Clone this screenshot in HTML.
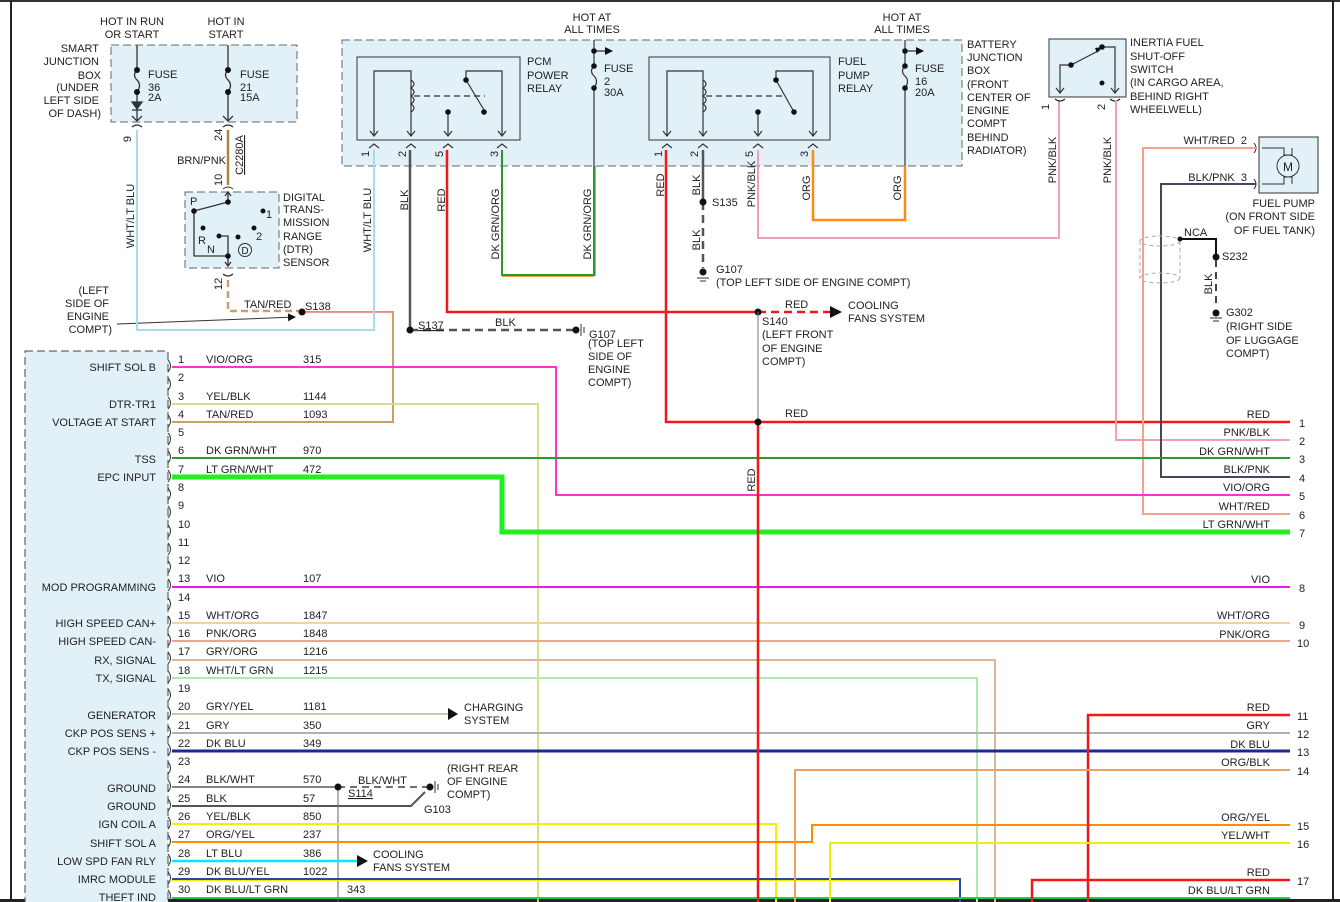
<!DOCTYPE html>
<html><head><meta charset="utf-8"><style>
html,body{margin:0;padding:0;background:#fff;width:1340px;height:902px;overflow:hidden}
svg{display:block}
text{font-family:"Liberation Sans",sans-serif;font-size:11px;fill:#222}
.r{text-anchor:end}
.m{text-anchor:middle}
</style></head><body>
<svg width="1340" height="902" viewBox="0 0 1340 902" xmlns="http://www.w3.org/2000/svg">
<defs>
<marker id="ah" markerWidth="8" markerHeight="8" refX="7" refY="4" orient="auto" markerUnits="userSpaceOnUse"><path d="M0,0 L8,4 L0,8 Z" fill="#111"/></marker>
</defs>
<!-- frame -->
<line x1="0" y1="1" x2="1340" y2="1" stroke="#333" stroke-width="2"/>
<line x1="11" y1="0" x2="11" y2="902" stroke="#222" stroke-width="2"/>
<line x1="1333" y1="0" x2="1333" y2="902" stroke="#222" stroke-width="2"/>
<rect x="0" y="899" width="1340" height="3" fill="#222"/>

<!-- boxes -->
<rect x="111" y="45" width="186" height="77" fill="#e2f0f8" stroke="#666" stroke-dasharray="8,4"/>
<rect x="342" y="40" width="620" height="126" fill="#e2f0f8" stroke="#666" stroke-dasharray="8,4"/>
<rect x="357" y="57" width="163" height="83" fill="none" stroke="#333"/>
<rect x="649" y="57" width="181" height="83" fill="none" stroke="#333"/>
<rect x="185" y="192" width="94" height="76" fill="#e2f0f8" stroke="#666" stroke-dasharray="8,4"/>
<rect x="1049" y="39" width="77" height="58" fill="#e2f0f8" stroke="#333"/>
<rect x="1259" y="137" width="59" height="56" fill="#e2f0f8" stroke="#333"/>
<rect x="25" y="351" width="143" height="560" fill="#e2f0f8" stroke="#444" stroke-dasharray="8,4"/>

<!-- top labels -->
<text x="132" y="25" class="m">HOT IN RUN</text><text x="132" y="38" class="m">OR START</text>
<text x="226" y="25" class="m">HOT IN</text><text x="226" y="38" class="m">START</text>
<text x="99" y="52" class="r">SMART</text><text x="99" y="65" class="r">JUNCTION</text><text x="101" y="79" class="r">BOX</text>
<text x="99" y="91" class="r">(UNDER</text><text x="99" y="104" class="r">LEFT SIDE</text><text x="101" y="117" class="r">OF DASH)</text>
<text x="592" y="21" class="m">HOT AT</text><text x="592" y="33" class="m">ALL TIMES</text>
<text x="902" y="21" class="m">HOT AT</text><text x="902" y="33" class="m">ALL TIMES</text>
<text x="967" y="48">BATTERY</text><text x="967" y="61">JUNCTION</text><text x="967" y="74">BOX</text><text x="967" y="88">(FRONT</text><text x="967" y="101">CENTER OF</text><text x="967" y="114">ENGINE</text><text x="967" y="127">COMPT</text><text x="967" y="141">BEHIND</text><text x="967" y="154">RADIATOR)</text>
<text x="527" y="65">PCM</text><text x="527" y="79">POWER</text><text x="527" y="92">RELAY</text>
<text x="838" y="65">FUEL</text><text x="838" y="79">PUMP</text><text x="838" y="92">RELAY</text>
<text x="1130" y="46">INERTIA FUEL</text><text x="1130" y="60">SHUT-OFF</text><text x="1130" y="73">SWITCH</text><text x="1130" y="86">(IN CARGO AREA,</text><text x="1130" y="100">BEHIND RIGHT</text><text x="1130" y="113">WHEELWELL)</text>
<text x="1315" y="207" class="r">FUEL PUMP</text><text x="1315" y="220" class="r">(ON FRONT SIDE</text><text x="1315" y="234" class="r">OF FUEL TANK)</text>

<!-- smart JB fuses -->
<g stroke="#333" fill="none" stroke-width="1.3">
<line x1="137" y1="45" x2="137" y2="68"/><path d="M137,70 q-5,5 0,10 q5,5 0,12"/><line x1="137" y1="92" x2="137" y2="120"/>
<path d="M132,102 L142,102 L137,109 Z" fill="#333"/><line x1="132" y1="110" x2="142" y2="110"/>
<path d="M132,116 L137,121 L142,116"/>
<line x1="228" y1="45" x2="228" y2="68"/><path d="M228,70 q-5,5 0,10 q5,5 0,12"/><line x1="228" y1="92" x2="228" y2="120"/>
<path d="M223,116 L228,121 L233,116"/>
<path d="M132,127 q5,-4 10,0"/><path d="M223,127 q5,-4 10,0"/>
</g>
<circle cx="137" cy="70" r="3" fill="#111"/><circle cx="137" cy="92" r="3" fill="#111"/>
<circle cx="228" cy="70" r="3" fill="#111"/><circle cx="228" cy="92" r="3" fill="#111"/>
<text x="148" y="78">FUSE</text><text x="148" y="91">36</text><text x="148" y="101">2A</text>
<text x="240" y="78">FUSE</text><text x="240" y="91">21</text><text x="240" y="101">15A</text>
<text transform="translate(131,136) rotate(-90)" class="r">9</text>
<text transform="translate(222,141) rotate(-90)">24</text>
<text transform="translate(134,216) rotate(-90)" class="m">WHT/LT BLU</text>
<text x="226" y="164" class="r">BRN/PNK</text>
<text transform="translate(243,155) rotate(-90)" class="m" style="text-decoration:underline">C2280A</text>
<line x1="228" y1="130" x2="228" y2="185" stroke="#b08040" stroke-width="2.5"/>
<text transform="translate(222,186) rotate(-90)">10</text>
<path d="M223,189 q5,-4 10,0" stroke="#333" fill="none"/>
<!-- DTR internals -->
<g stroke="#333" fill="none" stroke-width="1.3">
<line x1="228" y1="192" x2="228" y2="202"/><path d="M225,196 L228,192 L231,196"/>
<line x1="228" y1="202" x2="194" y2="211"/>
<path d="M194,211 L194,256 L228,256 L228,236 L219,236"/>
<line x1="228" y1="256" x2="228" y2="266"/><path d="M225,262 L228,266 L231,262"/>
<path d="M223,274 q5,4 10,0"/>
</g>
<circle cx="228" cy="202" r="2.8" fill="#111"/><circle cx="194" cy="211" r="2.8" fill="#111"/><circle cx="263" cy="211" r="2.5" fill="#111"/>
<circle cx="203" cy="228" r="2.5" fill="#111"/><circle cx="254" cy="228" r="2.5" fill="#111"/><circle cx="219" cy="236" r="2.5" fill="#111"/><circle cx="238" cy="237" r="2.5" fill="#111"/><circle cx="228" cy="256" r="2.8" fill="#111"/>
<circle cx="245" cy="250" r="6.5" fill="none" stroke="#333"/><text x="245" y="254" class="m" style="font-size:10px">D</text>
<text x="190" y="205">P</text><text x="266" y="218">1</text><text x="256" y="240">2</text><text x="198" y="244">R</text><text x="207" y="253">N</text>
<text x="283" y="201">DIGITAL</text><text x="283" y="213">TRANS-</text><text x="283" y="226">MISSION</text><text x="283" y="240">RANGE</text><text x="283" y="253">(DTR)</text><text x="283" y="266">SENSOR</text>
<text transform="translate(222,290) rotate(-90)">12</text>
<path d="M228,280 L228,311 L300,311" stroke="#c8a070" stroke-width="2.5" fill="none" stroke-dasharray="7,4"/>
<text x="244" y="308">TAN/RED</text>
<path d="M302,312 L393,312 L393,422 L172,422" stroke="#c8a070" stroke-width="2" fill="none"/>
<line x1="302" y1="312.6" x2="393" y2="312.6" stroke="#f0a090" stroke-width="1"/>
<circle cx="302" cy="312" r="3.5" fill="#111"/><text x="305" y="310">S138</text>
<line x1="117" y1="324" x2="295" y2="317" stroke="#333" marker-end="url(#ah)"/>
<text x="109" y="294" class="r">(LEFT</text><text x="109" y="307" class="r">SIDE OF</text><text x="109" y="320" class="r">ENGINE</text><text x="112" y="333" class="r">COMPT)</text>
<!-- WHT/LT BLU -->
<path d="M137,130 L137,330 L374,330 L374,150" stroke="#a8dce8" stroke-width="2" fill="none"/>

<!-- PCM relay internals -->
<g stroke="#333" fill="none" stroke-width="1.2">
<path d="M374,135 L374,71 L411,71 L411,135"/>
<path d="M411,80 q6,4 0,8 q6,4 0,8 q6,4 0,8 q6,4 0,8"/>
<line x1="414" y1="96" x2="485" y2="96" stroke-dasharray="6,4"/>
<path d="M466,80 L466,71 L502,71 L502,135"/><line x1="466" y1="80" x2="484" y2="110"/>
<line x1="448" y1="112" x2="448" y2="135"/>
<path d="M370,131 L374,136 L378,131 M407,131 L411,136 L415,131 M444,131 L448,136 L452,131 M498,131 L502,136 L506,131"/>
<path d="M369,148 L374,144 L379,148 M406,148 L411,144 L416,148 M443,148 L448,144 L453,148 M497,148 L502,144 L507,148"/>
<line x1="594" y1="40" x2="594" y2="65"/><path d="M594,66 q-5,5 0,10 q5,5 0,12"/><line x1="594" y1="88" x2="594" y2="166"/>
<line x1="594" y1="51" x2="612" y2="51" marker-end="url(#ah)"/>
<!-- fuel pump relay -->
<path d="M667,135 L667,71 L703,71 L703,135"/>
<path d="M703,80 q6,4 0,8 q6,4 0,8 q6,4 0,8 q6,4 0,8"/>
<line x1="706" y1="96" x2="785" y2="96" stroke-dasharray="6,4"/>
<path d="M776,80 L776,71 L813,71 L813,135"/><line x1="776" y1="80" x2="794" y2="112"/>
<line x1="758" y1="112" x2="758" y2="135"/>
<path d="M663,131 L667,136 L671,131 M699,131 L703,136 L707,131 M754,131 L758,136 L762,131 M809,131 L813,136 L817,131"/>
<path d="M662,148 L667,144 L672,148 M698,148 L703,144 L708,148 M753,148 L758,144 L763,148 M808,148 L813,144 L818,148"/>
<line x1="905" y1="40" x2="905" y2="65"/><path d="M905,66 q-5,5 0,10 q5,5 0,12"/><line x1="905" y1="88" x2="905" y2="166"/>
<line x1="905" y1="51" x2="923" y2="51" marker-end="url(#ah)"/>
</g>
<g fill="#111"><circle cx="466" cy="80" r="2.8"/><circle cx="484" cy="112" r="2.8"/><circle cx="448" cy="112" r="2.8"/><circle cx="594" cy="51" r="2.8"/><circle cx="594" cy="66" r="2.8"/><circle cx="594" cy="88" r="2.8"/>
<circle cx="776" cy="80" r="2.8"/><circle cx="794" cy="112" r="2.8"/><circle cx="758" cy="112" r="2.8"/><circle cx="905" cy="51" r="2.8"/><circle cx="905" cy="66" r="2.8"/><circle cx="905" cy="88" r="2.8"/></g>
<text x="604" y="72">FUSE</text><text x="604" y="85">2</text><text x="604" y="96">30A</text>
<text x="915" y="72">FUSE</text><text x="915" y="85">16</text><text x="915" y="96">20A</text>
<g style="font-size:10px">
<text transform="translate(369,157) rotate(-90)">1</text><text transform="translate(406,157) rotate(-90)">2</text><text transform="translate(443,157) rotate(-90)">5</text><text transform="translate(498,157) rotate(-90)">3</text>
<text transform="translate(662,157) rotate(-90)">1</text><text transform="translate(698,157) rotate(-90)">2</text><text transform="translate(753,157) rotate(-90)">5</text><text transform="translate(808,157) rotate(-90)">3</text>
<text transform="translate(1049,110) rotate(-90)">1</text><text transform="translate(1105,110) rotate(-90)">2</text>
</g>
<!-- relay wires -->
<path d="M410,150 L410,330" stroke="#555" stroke-width="2.5" fill="none"/>
<path d="M410,330 L574,330" stroke="#555" stroke-width="2.5" stroke-dasharray="8,5" fill="none"/>
<circle cx="410" cy="330" r="3.5" fill="#111"/><text x="418" y="329" style="text-decoration:underline">S137</text>
<text x="495" y="326">BLK</text>
<circle cx="576" cy="330" r="3.5" fill="#111"/><line x1="581" y1="324" x2="581" y2="336" stroke="#333"/><line x1="584" y1="327" x2="584" y2="333" stroke="#333"/>
<text x="589" y="338">G107</text><text x="588" y="347">(TOP LEFT</text><text x="588" y="360">SIDE OF</text><text x="588" y="373">ENGINE</text><text x="588" y="386">COMPT)</text>
<path d="M447,150 L447,312 L758,312" stroke="#f01818" stroke-width="2.5" fill="none"/>
<path d="M758,312 L830,312" stroke="#f01818" stroke-width="2.5" fill="none" stroke-dasharray="8,5"/>
<path d="M830,306 L842,312 L830,318 Z" fill="#111"/>
<circle cx="758" cy="312" r="3.5" fill="#111"/>
<text x="785" y="308">RED</text><text x="848" y="309">COOLING</text><text x="848" y="322">FANS SYSTEM</text>
<text x="762" y="325">S140</text><text x="762" y="338">(LEFT FRONT</text><text x="762" y="352">OF ENGINE</text><text x="762" y="365">COMPT)</text>
<line x1="758" y1="312" x2="758" y2="422" stroke="#777" stroke-width="1"/>
<path d="M502,150 L502,275 L594,275 L594,166" stroke="#2a9a2a" stroke-width="2" fill="none"/>
<path d="M502,276.5 L594,276.5 M595.5,276 L595.5,166" stroke="#f0a040" stroke-width="1" fill="none"/>
<path d="M666,150 L666,422 L1290,422" stroke="#f01818" stroke-width="2.5" fill="none"/>
<path d="M703,150 L703,202" stroke="#555" stroke-width="2.5" fill="none"/>
<path d="M703,202 L703,268" stroke="#555" stroke-width="2.5" stroke-dasharray="8,5" fill="none"/>
<circle cx="703" cy="202" r="3.5" fill="#111"/><text x="712" y="206">S135</text>
<circle cx="703" cy="272" r="3.5" fill="#111"/><line x1="697" y1="278" x2="709" y2="278" stroke="#333"/><line x1="700" y1="281" x2="706" y2="281" stroke="#333"/>
<text x="716" y="273">G107</text><text x="716" y="286">(TOP LEFT SIDE OF ENGINE COMPT)</text>
<path d="M758,150 L758,238 L1059,238 L1059,100" stroke="#f0a0b0" stroke-width="2" fill="none"/>
<path d="M813,150 L813,220 L905,220 L905,166" stroke="#ff8c10" stroke-width="2.5" fill="none"/>
<!-- relay wire labels -->
<text transform="translate(371,220) rotate(-90)" class="m">WHT/LT BLU</text>
<text transform="translate(408,200) rotate(-90)" class="m">BLK</text>
<text transform="translate(445,200) rotate(-90)" class="m">RED</text>
<text transform="translate(499,224) rotate(-90)" class="m">DK GRN/ORG</text>
<text transform="translate(591,224) rotate(-90)" class="m">DK GRN/ORG</text>
<text transform="translate(664,185) rotate(-90)" class="m">RED</text>
<text transform="translate(700,185) rotate(-90)" class="m">BLK</text>
<text transform="translate(700,240) rotate(-90)" class="m">BLK</text>
<text transform="translate(755,184) rotate(-90)" class="m">PNK/BLK</text>
<text transform="translate(810,188) rotate(-90)" class="m">ORG</text>
<text transform="translate(901,188) rotate(-90)" class="m">ORG</text>

<!-- inertia switch -->
<g stroke="#333" fill="none" stroke-width="1.2">
<path d="M1060,92 L1060,65 L1071,65 L1100,50"/><path d="M1102,47 L1115,47 L1115,92"/>
<path d="M1056,88 L1060,93 L1064,88 M1111,88 L1115,93 L1119,88"/>
<path d="M1055,99 q5,4 10,0 M1110,99 q5,4 10,0"/>
</g>
<circle cx="1071" cy="65" r="2.8" fill="#111"/><circle cx="1102" cy="47" r="2.8" fill="#111"/><circle cx="1102" cy="83" r="2.5" fill="#111"/>
<path d="M1095,48 L1102,47 L1097,53 Z" fill="#111"/>
<path d="M1116,100 L1116,440 L1290,440" stroke="#f0a0b0" stroke-width="2" fill="none"/>
<text transform="translate(1056,160) rotate(-90)" class="m">PNK/BLK</text>
<text transform="translate(1111,160) rotate(-90)" class="m">PNK/BLK</text>
<!-- fuel pump -->
<circle cx="1288" cy="166" r="11" fill="none" stroke="#333"/><text x="1288" y="171" class="m" style="font-size:12px">M</text>
<g stroke="#333" fill="none"><path d="M1262,148 L1284,148 L1284,155 L1292,155 L1292,148"/><path d="M1262,184 L1284,184 L1284,177 L1292,177 L1292,184"/><path d="M1254,143 q4,5 0,10 M1254,179 q4,5 0,10"/></g>
<path d="M1256,148 L1143,148 L1143,514 L1290,514" stroke="#f8a090" stroke-width="2" fill="none"/>
<path d="M1256,184 L1161,184 L1161,477 L1290,477" stroke="#454560" stroke-width="2" fill="none"/>
<text x="1247" y="144" class="r">WHT/RED&#160;&#160;2</text><text x="1247" y="181" class="r">BLK/PNK&#160;&#160;3</text>
<!-- NCA -->
<g stroke="#aaa" fill="none" stroke-dasharray="4,3"><ellipse cx="1160" cy="241" rx="20" ry="5"/><ellipse cx="1160" cy="278" rx="20" ry="5"/><line x1="1140" y1="241" x2="1140" y2="278"/><line x1="1180" y1="241" x2="1180" y2="278"/></g>
<path d="M1180,239 L1216,239 L1216,256" stroke="#111" stroke-width="2" fill="none"/>
<circle cx="1180" cy="239" r="2.5" fill="#111"/><text x="1184" y="236">NCA</text>
<circle cx="1216" cy="257" r="3.5" fill="#111"/><text x="1222" y="260">S232</text>
<path d="M1216,260 L1216,306" stroke="#444" stroke-width="2" stroke-dasharray="7,5"/>
<text transform="translate(1212,284) rotate(-90)" class="m">BLK</text>
<circle cx="1216" cy="313" r="3.5" fill="#111"/><line x1="1210" y1="318" x2="1222" y2="318" stroke="#333"/><line x1="1213" y1="321" x2="1219" y2="321" stroke="#333"/>
<text x="1226" y="316">G302</text><text x="1226" y="330">(RIGHT SIDE</text><text x="1226" y="344">OF LUGGAGE</text><text x="1226" y="357">COMPT)</text>

<!-- PCM connector wires -->
<g fill="none">
<path d="M172,367 L556,367 L556,495 L1290,495" stroke="#ff33cc" stroke-width="2"/>
<path d="M172,404 L538,404 L538,902" stroke="#d8d880" stroke-width="1.8"/>
<path d="M172,458 L1290,458" stroke="#2a9a2a" stroke-width="2"/>
<path d="M172,477 L502,477 L502,532 L1290,532" stroke="#22ee22" stroke-width="5"/>
<path d="M172,587 L1290,587" stroke="#e020e0" stroke-width="2"/>
<path d="M172,623 L1290,623" stroke="#f8d0a0" stroke-width="2"/>
<path d="M172,641 L1290,641" stroke="#f8a090" stroke-width="2"/>
<path d="M172,660 L995,660 L995,902" stroke="#d8b898" stroke-width="2"/>
<path d="M172,678 L977,678 L977,902" stroke="#b0eab0" stroke-width="2"/>
<path d="M172,714 L450,714" stroke="#c8c8b0" stroke-width="2"/>
<path d="M172,733 L1290,733" stroke="#b0b0b0" stroke-width="2"/>
<path d="M172,751 L1290,751" stroke="#1a2a90" stroke-width="3"/>
<path d="M172,787 L338,787" stroke="#707070" stroke-width="1.8"/>
<path d="M338,787 L428,787" stroke="#707070" stroke-width="2" stroke-dasharray="7,5"/>
<path d="M172,806 L411,806 L425,792" stroke="#555" stroke-width="2"/>
<line x1="338" y1="787" x2="338" y2="902" stroke="#666" stroke-width="1"/>
<path d="M172,824 L776,824 L776,902" stroke="#f0f000" stroke-width="2"/>
<path d="M172,842 L812,842 L812,825 L1290,825" stroke="#ff8c00" stroke-width="2"/>
<path d="M172,861 L360,861" stroke="#00e8f8" stroke-width="2.5"/>
<path d="M172,879 L960,879 L960,902" stroke="#2a4aa0" stroke-width="2"/>
<path d="M172,880.5 L958,880.5" stroke="#f0f000" stroke-width="1"/>
<path d="M172,898 L1290,898" stroke="#22cc44" stroke-width="2"/>
<path d="M758,422 L758,902" stroke="#f01818" stroke-width="2.5"/>
<path d="M1290,715 L1088,715 L1088,902" stroke="#f01818" stroke-width="2.5"/>
<path d="M1290,770 L795,770 L795,902" stroke="#f0a060" stroke-width="2"/>
<path d="M1290,843 L830,843 L830,902" stroke="#f0f000" stroke-width="2"/>
<path d="M1290,880 L1032,880 L1032,902" stroke="#f01818" stroke-width="2.5"/>
</g>
<circle cx="758" cy="422" r="3.5" fill="#111"/>
<text x="785" y="417">RED</text>
<text transform="translate(755,480) rotate(-90)" class="m">RED</text>
<path d="M448,708 L458,714 L448,720 Z" fill="#111"/><text x="464" y="711">CHARGING</text><text x="464" y="724">SYSTEM</text>
<path d="M357,855 L368,861 L357,867 Z" fill="#111"/><text x="373" y="858">COOLING</text><text x="373" y="871">FANS SYSTEM</text>
<circle cx="338" cy="787" r="3.5" fill="#111"/><text x="348" y="797" style="text-decoration:underline">S114</text>
<text x="358" y="784">BLK/WHT</text>
<circle cx="430" cy="787" r="3.5" fill="#111"/><line x1="435" y1="781" x2="435" y2="793" stroke="#333"/><line x1="438" y1="784" x2="438" y2="790" stroke="#333"/>
<text x="424" y="813">G103</text>
<text x="447" y="772">(RIGHT REAR</text><text x="447" y="785">OF ENGINE</text><text x="447" y="798">COMPT)</text>

<!-- pin connector marks and numbers -->
<g stroke="#333" fill="none" stroke-width="1">
<path d="M168,360 q5,6 0,12 M168,378 q5,6 0,12 M168,397 q5,6 0,12 M168,415 q5,6 0,12 M168,433 q5,6 0,12 M168,451 q5,6 0,12 M168,470 q5,6 0,12 M168,488 q5,6 0,12 M168,506 q5,6 0,12 M168,525 q5,6 0,12 M168,543 q5,6 0,12 M168,561 q5,6 0,12 M168,579 q5,6 0,12 M168,598 q5,6 0,12 M168,616 q5,6 0,12 M168,634 q5,6 0,12 M168,652 q5,6 0,12 M168,671 q5,6 0,12 M168,689 q5,6 0,12 M168,707 q5,6 0,12 M168,726 q5,6 0,12 M168,744 q5,6 0,12 M168,762 q5,6 0,12 M168,780 q5,6 0,12 M168,799 q5,6 0,12 M168,817 q5,6 0,12 M168,835 q5,6 0,12 M168,854 q5,6 0,12 M168,872 q5,6 0,12 M168,890 q5,6 0,12"/>
</g>
<g style="font-size:10.5px">
<text x="178" y="363">1</text><text x="178" y="381">2</text><text x="178" y="400">3</text><text x="178" y="418">4</text><text x="178" y="436">5</text><text x="178" y="454">6</text><text x="178" y="473">7</text><text x="178" y="491">8</text><text x="178" y="509">9</text><text x="178" y="528">10</text><text x="178" y="546">11</text><text x="178" y="564">12</text><text x="178" y="582">13</text><text x="178" y="601">14</text><text x="178" y="619">15</text><text x="178" y="637">16</text><text x="178" y="655">17</text><text x="178" y="674">18</text><text x="178" y="692">19</text><text x="178" y="710">20</text><text x="178" y="729">21</text><text x="178" y="747">22</text><text x="178" y="765">23</text><text x="178" y="783">24</text><text x="178" y="802">25</text><text x="178" y="820">26</text><text x="178" y="838">27</text><text x="178" y="857">28</text><text x="178" y="875">29</text><text x="178" y="893">30</text>
</g>
<!-- wire labels left -->
<text x="206" y="363">VIO/ORG</text><text x="303" y="363">315</text>
<text x="206" y="400">YEL/BLK</text><text x="303" y="400">1144</text>
<text x="206" y="418">TAN/RED</text><text x="303" y="418">1093</text>
<text x="206" y="454">DK GRN/WHT</text><text x="303" y="454">970</text>
<text x="206" y="473">LT GRN/WHT</text><text x="303" y="473">472</text>
<text x="206" y="582">VIO</text><text x="303" y="582">107</text>
<text x="206" y="619">WHT/ORG</text><text x="303" y="619">1847</text>
<text x="206" y="637">PNK/ORG</text><text x="303" y="637">1848</text>
<text x="206" y="655">GRY/ORG</text><text x="303" y="655">1216</text>
<text x="206" y="674">WHT/LT GRN</text><text x="303" y="674">1215</text>
<text x="206" y="710">GRY/YEL</text><text x="303" y="710">1181</text>
<text x="206" y="729">GRY</text><text x="303" y="729">350</text>
<text x="206" y="747">DK BLU</text><text x="303" y="747">349</text>
<text x="206" y="783">BLK/WHT</text><text x="303" y="783">570</text>
<text x="206" y="802">BLK</text><text x="303" y="802">57</text>
<text x="206" y="820">YEL/BLK</text><text x="303" y="820">850</text>
<text x="206" y="838">ORG/YEL</text><text x="303" y="838">237</text>
<text x="206" y="857">LT BLU</text><text x="303" y="857">386</text>
<text x="206" y="875">DK BLU/YEL</text><text x="303" y="875">1022</text>
<text x="206" y="893">DK BLU/LT GRN</text><text x="347" y="893">343</text>
<!-- PCM function labels -->
<text x="156" y="371" class="r">SHIFT SOL B</text>
<text x="156" y="408" class="r">DTR-TR1</text>
<text x="156" y="426" class="r">VOLTAGE AT START</text>
<text x="156" y="463" class="r">TSS</text>
<text x="156" y="481" class="r">EPC INPUT</text>
<text x="156" y="591" class="r">MOD PROGRAMMING</text>
<text x="156" y="627" class="r">HIGH SPEED CAN+</text>
<text x="156" y="645" class="r">HIGH SPEED CAN-</text>
<text x="156" y="664" class="r">RX, SIGNAL</text>
<text x="156" y="682" class="r">TX, SIGNAL</text>
<text x="156" y="719" class="r">GENERATOR</text>
<text x="156" y="737" class="r">CKP POS SENS +</text>
<text x="156" y="755" class="r">CKP POS SENS -</text>
<text x="156" y="792" class="r">GROUND</text>
<text x="156" y="810" class="r">GROUND</text>
<text x="156" y="828" class="r">IGN COIL A</text>
<text x="156" y="847" class="r">SHIFT SOL A</text>
<text x="156" y="865" class="r">LOW SPD FAN RLY</text>
<text x="156" y="883" class="r">IMRC MODULE</text>
<text x="156" y="901" class="r">THEFT IND</text>
<!-- right labels -->
<g class="r">
<text x="1270" y="418" class="r">RED</text><text x="1270" y="436" class="r">PNK/BLK</text><text x="1270" y="455" class="r">DK GRN/WHT</text><text x="1270" y="473" class="r">BLK/PNK</text><text x="1270" y="491" class="r">VIO/ORG</text><text x="1270" y="510" class="r">WHT/RED</text><text x="1270" y="528" class="r">LT GRN/WHT</text><text x="1270" y="583" class="r">VIO</text><text x="1270" y="619" class="r">WHT/ORG</text><text x="1270" y="638" class="r">PNK/ORG</text><text x="1270" y="711" class="r">RED</text><text x="1270" y="729" class="r">GRY</text><text x="1270" y="748" class="r">DK BLU</text><text x="1270" y="766" class="r">ORG/BLK</text><text x="1270" y="821" class="r">ORG/YEL</text><text x="1270" y="839" class="r">YEL/WHT</text><text x="1270" y="876" class="r">RED</text><text x="1270" y="894" class="r">DK BLU/LT GRN</text>
</g>
<g>
<text x="1299" y="427">1</text><text x="1299" y="445">2</text><text x="1299" y="463">3</text><text x="1299" y="482">4</text><text x="1299" y="500">5</text><text x="1299" y="519">6</text><text x="1299" y="537">7</text><text x="1299" y="592">8</text><text x="1299" y="629">9</text><text x="1297" y="647">10</text><text x="1297" y="720">11</text><text x="1297" y="738">12</text><text x="1297" y="756">13</text><text x="1297" y="775">14</text><text x="1297" y="830">15</text><text x="1297" y="848">16</text><text x="1297" y="885">17</text>
</g>
</svg>
</body></html>
